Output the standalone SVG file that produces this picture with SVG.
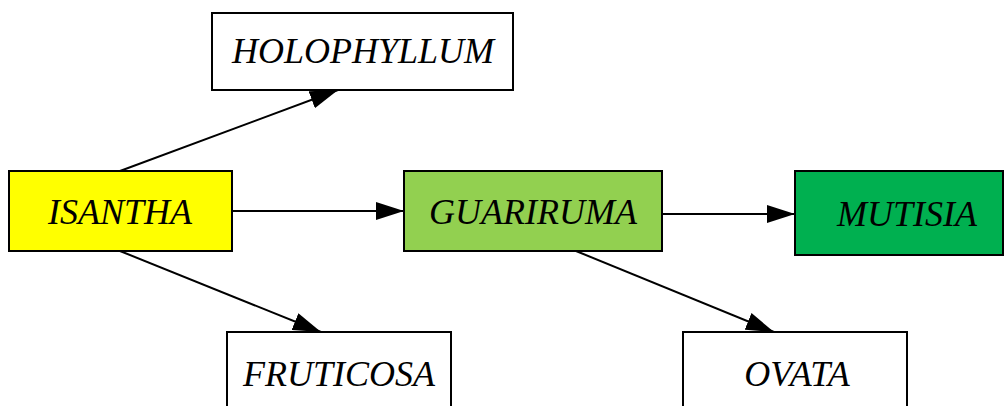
<svg xmlns="http://www.w3.org/2000/svg" width="1004" height="406" viewBox="0 0 1004 406">
<style>
.box{stroke:#000;stroke-width:2}
.lbl{font-family:"Liberation Serif","Times New Roman",serif;font-style:italic;font-size:36px;fill:#000;text-anchor:middle}
.edge{stroke:#000;stroke-width:2;fill:none}
</style>
<defs>
<marker id="arr" viewBox="0 0 28 18" refX="28" refY="9" markerWidth="28" markerHeight="18" markerUnits="userSpaceOnUse" orient="auto">
<polygon points="0,0 28,9 0,18" fill="#000"/>
</marker>
</defs>
<rect width="1004" height="406" fill="#fff"/>
<g id="connectors">
<line class="edge" x1="120" y1="171" x2="338" y2="90" marker-end="url(#arr)"/>
<line class="edge" x1="232" y1="211" x2="404" y2="211" marker-end="url(#arr)"/>
<line class="edge" x1="120" y1="251" x2="321" y2="332" marker-end="url(#arr)"/>
<line class="edge" x1="662" y1="214" x2="795" y2="214" marker-end="url(#arr)"/>
<line class="edge" x1="576" y1="251" x2="774" y2="332" marker-end="url(#arr)"/>
</g>
<g id="HOLOPHYLLUM">
<rect class="box" x="212" y="13" width="301" height="77" fill="#fff"/>
<text class="lbl" x="363" y="63">HOLOPHYLLUM</text>
</g>
<g id="ISANTHA">
<rect class="box" x="9" y="171" width="223" height="80" fill="#ffff00"/>
<text class="lbl" x="120" y="224">ISANTHA</text>
</g>
<g id="GUARIRUMA">
<rect class="box" x="404" y="171" width="258" height="80" fill="#92d050"/>
<text class="lbl" x="533" y="224">GUARIRUMA</text>
</g>
<g id="MUTISIA">
<rect class="box" x="795" y="171" width="208" height="84" fill="#00b050"/>
<text class="lbl" x="907" y="226">MUTISIA</text>
</g>
<g id="FRUTICOSA">
<rect class="box" x="227" y="332" width="224" height="80" fill="#fff"/>
<text class="lbl" x="339" y="386">FRUTICOSA</text>
</g>
<g id="OVATA">
<rect class="box" x="683" y="332" width="224" height="80" fill="#fff"/>
<text class="lbl" x="797" y="386">OVATA</text>
</g>
</svg>
